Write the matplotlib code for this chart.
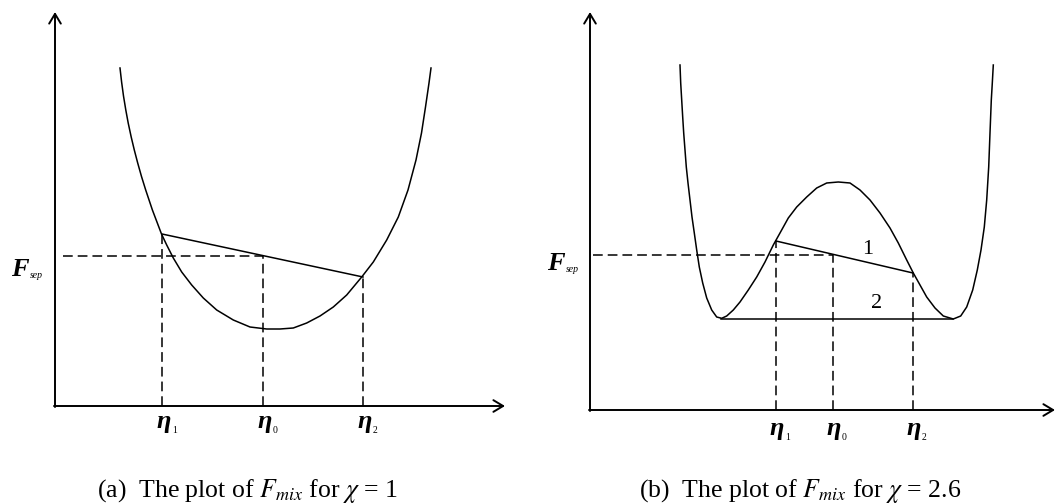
import matplotlib
matplotlib.use('Agg')
import matplotlib.pyplot as plt
import numpy as np

plt.rcParams['font.family'] = ['Liberation Serif', 'DejaVu Serif']
plt.rcParams['mathtext.fontset'] = 'stix'
plt.rcParams['lines.scale_dashes'] = False
plt.rcParams['lines.solid_joinstyle'] = 'round'

## (a) chi = 1 : single well
xa = [65, 66.6, 68.5, 70.8, 73.2, 76.2, 79.3, 82.7, 86.5, 90.7, 97.4, 106.5, 111.7, 118.3, 126.7, 136.7, 148.3, 161.7, 178.3, 195,
      211.7, 225, 238.3, 251.7, 265, 278.3, 291.7, 306.7, 318.3, 331.7, 343.3, 353, 361, 366.5, 370.5, 374, 376]
ya = [338, 324, 310, 296, 283, 269, 256, 243, 229.5, 216, 196, 172, 161, 148, 134, 121, 108, 96, 86, 79,
      77, 77, 78, 83, 90, 99, 111, 129, 144, 166, 189, 216, 246, 273, 299, 323, 338]
eta_a = [107, 208, 308]          # eta1, eta0, eta2
f_eta_a = [172, 150, 129]        # F at eta1, F_sep, F at eta2

## (b) chi = 2.6 : double well
xb = [90, 90.7, 91.7, 92.7, 93.7, 95, 96.3, 98, 100, 102, 104.3, 106.7, 109.3, 112.7, 116.7, 121.7, 126.7, 131.7, 136.7, 143.3,
      150, 158.3, 166.7, 175, 183.3, 190, 198.3, 206.7, 216.7, 226.7, 236.7, 248.3, 260, 270, 280, 290, 300, 308.3, 316.7, 323.3,
      330, 336.7, 345, 353.3, 363.3, 370.7, 376.7, 382.7, 387.3, 391, 394.3, 396.7, 398.7, 400, 401.3, 402.3, 403.3]
yb = [345, 327, 310, 293, 277, 260, 243, 227, 210, 193, 177, 160, 143, 127, 112, 100, 93, 91.7, 94, 100,
      108, 120, 133, 148, 165, 177, 192, 203, 213, 222, 227, 228, 227, 220, 210, 197, 182, 167, 150, 137,
      125, 113, 102, 94, 91, 94, 103, 120, 140, 160, 183, 210, 243, 277, 310, 327, 345]
eta_b = [186, 243, 323]
f_eta_b = [169, 155, 137]
well_min_b = [131, 363]          # the two minima joined by line 2
f_min_b = 91

labels_sub = ['1', '0', '2']


def eta_label(ax, x, sub, y):
    ax.text(x, y, 'η', fontsize=19, fontweight='bold', fontstyle='italic',
            ha='center', va='baseline')
    ax.text(x + 8, y - 5, sub, fontsize=7, ha='left', va='baseline')


def fsep_label(ax, x, y):
    ax.text(x, y, 'F', fontsize=19, fontweight='bold', fontstyle='italic',
            ha='left', va='baseline')
    ax.text(x + 19, y - 2, 'sep', fontsize=7, fontstyle='italic', ha='left', va='baseline')


def axes_arrows(ax, xtip, ytip):
    kw = dict(arrowstyle='->,head_length=0.5,head_width=0.3', lw=1.4, color='black',
              mutation_scale=14, shrinkA=0, shrinkB=0)
    ax.annotate('', xy=(0, ytip), xytext=(0, -1), arrowprops=kw)
    ax.annotate('', xy=(xtip, 0), xytext=(-1, 0), arrowprops=kw)


def guides(ax, etas, fvals, fsep_start):
    dash = dict(color='black', lw=1.1, dashes=(7, 3.6))
    for x, f in zip(etas, fvals):
        ax.plot([x, x], [0, f], **dash)
    ax.plot([fsep_start, etas[1]], [fvals[1], fvals[1]], **dash)
    ax.plot([etas[0], etas[2]], [fvals[0], fvals[2]], color='black', lw=1.1)


fig = plt.figure(figsize=(10.57, 5.04), dpi=100)

ax1 = fig.add_axes([0, 0, 530 / 1057, 1])
ax1.set_xlim(-55, 475)
ax1.set_ylim(-98, 406)
ax1.axis('off')
ax1.plot(xa, ya, color='black', lw=1.1)
guides(ax1, eta_a, f_eta_a, 8)
axes_arrows(ax1, 450, 394)
for x, s in zip(eta_a, labels_sub):
    eta_label(ax1, x + 2, s, -22)
fsep_label(ax1, -44, 130)
ax1.text(192, -91, r'(a)  The plot of $F_{mix}$ for $\chi$ = 1', fontsize=18.5,
         ha='center', va='baseline')

ax2 = fig.add_axes([530 / 1057, 0, 527 / 1057, 1])
ax2.set_xlim(-60, 467)
ax2.set_ylim(-94, 410)
ax2.axis('off')
ax2.plot(xb, yb, color='black', lw=1.1)
ax2.plot(well_min_b, [f_min_b, f_min_b], color='black', lw=1.1)
guides(ax2, eta_b, f_eta_b, 3)
axes_arrows(ax2, 465, 398)
for x, s in zip(eta_b, labels_sub):
    eta_label(ax2, x + 1, s, -25)
fsep_label(ax2, -43, 140)
ax2.text(278, 161, '1', fontsize=16, ha='center', va='center')
ax2.text(287, 106, '2', fontsize=16, ha='center', va='center')
ax2.text(210, -87, r'(b)  The plot of $F_{mix}$ for $\chi$ = 2.6', fontsize=18.5,
         ha='center', va='baseline')

fig.savefig('out.png', dpi=100)
